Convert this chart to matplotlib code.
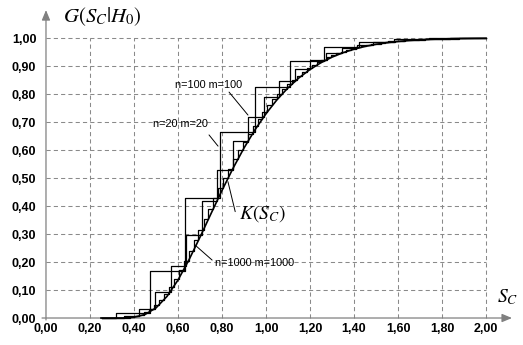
import matplotlib
matplotlib.use("Agg")
import matplotlib.pyplot as plt

plt.rcParams["mathtext.fontset"] = "stix"

# two-sample statistic S_C = sqrt(nm/(n+m)) * D, step positions and G values
s20 = [0.253, 0.316, 0.474, 0.632, 0.791, 0.949, 1.107, 1.265, 1.423, 1.581, 1.739, 1.897]
g20 = [0.0, 0.0169, 0.168, 0.4287, 0.6644, 0.8255, 0.9189, 0.9665, 0.9877, 0.996, 0.9989, 0.9997]

s100 = [0.253, 0.354, 0.424, 0.495, 0.566, 0.636, 0.707, 0.778, 0.849, 0.919, 0.990,
        1.061, 1.131, 1.202, 1.273, 1.344, 1.414, 1.485, 1.556, 1.626, 1.697, 1.768,
        1.838, 1.909, 1.980]
g100 = [0.0, 0.0058, 0.0316, 0.0916, 0.1846, 0.2979, 0.417, 0.5305, 0.6318, 0.7181, 0.7888,
        0.8452, 0.8888, 0.9218, 0.9461, 0.9636, 0.9759, 0.9844, 0.9901, 0.9939, 0.9963,
        0.9978, 0.9987, 0.9993, 0.9996]

s1000 = [0.253, 0.313, 0.335, 0.358, 0.380, 0.402, 0.425, 0.447, 0.470, 0.492, 0.514,
         0.537, 0.559, 0.581, 0.604, 0.626, 0.648, 0.671, 0.693, 0.716, 0.738, 0.760,
         0.783, 0.805, 0.827, 0.850, 0.872, 0.894, 0.917, 0.939, 0.962, 0.984, 1.006,
         1.029, 1.051, 1.073, 1.096, 1.118, 1.140, 1.163, 1.185, 1.207, 1.230, 1.252,
         1.275, 1.297, 1.319, 1.342, 1.364, 1.386, 1.409, 1.431, 1.453, 1.476, 1.498,
         1.521, 1.543, 1.565, 1.588, 1.610, 1.632, 1.655, 1.677, 1.699, 1.722, 1.744,
         1.767, 1.789, 1.811, 1.834, 1.856, 1.878, 1.901, 1.923, 1.945, 1.968, 1.990]
g1000 = [0.0, 0.0001, 0.0004, 0.0013, 0.0030, 0.0063, 0.0117, 0.0197, 0.0310, 0.0458, 0.0642,
         0.0863, 0.1118, 0.1405, 0.1718, 0.2053, 0.2406, 0.2772, 0.3145, 0.3522, 0.3898,
         0.4271, 0.4637, 0.4994, 0.534, 0.5674, 0.5994, 0.6299, 0.6589, 0.6863, 0.7122,
         0.7365, 0.7593, 0.7806, 0.8004, 0.8188, 0.8359, 0.8516, 0.8661, 0.8795, 0.8917,
         0.9029, 0.9131, 0.9224, 0.9308, 0.9385, 0.9454, 0.9516, 0.9572, 0.9622, 0.9667,
         0.9708, 0.9744, 0.9776, 0.9804, 0.9829, 0.9851, 0.9871, 0.9888, 0.9903, 0.9916,
         0.9928, 0.9938, 0.9947, 0.9955, 0.9961, 0.9967, 0.9972, 0.9976, 0.998, 0.9983,
         0.9986, 0.9988, 0.999, 0.9991, 0.9993, 0.9994]

# Kolmogorov limit distribution K(S)
sk = [0.25, 0.30, 0.35, 0.40, 0.45, 0.50, 0.55, 0.60, 0.65, 0.70, 0.75, 0.80,
      0.85, 0.90, 0.95, 1.00, 1.05, 1.10, 1.15, 1.20, 1.25, 1.30, 1.35, 1.40, 1.45,
      1.50, 1.55, 1.60, 1.65, 1.70, 1.75, 1.80, 1.85, 1.90, 1.95, 2.00]
gk = [0.0000, 0.0000, 0.0003, 0.0028, 0.0126, 0.0361, 0.0772, 0.1357, 0.2080,
      0.2888, 0.3728, 0.4559, 0.5347, 0.6073, 0.6725, 0.7300, 0.7798, 0.8223, 0.8580,
      0.8878, 0.9121, 0.9319, 0.9478, 0.9603, 0.9702, 0.9778, 0.9836, 0.9880, 0.9914,
      0.9938, 0.9956, 0.9969, 0.9979, 0.9985, 0.9990, 0.9993]

xticks = [0.0, 0.2, 0.4, 0.6, 0.8, 1.0, 1.2, 1.4, 1.6, 1.8, 2.0]
yticks = [0.0, 0.1, 0.2, 0.3, 0.4, 0.5, 0.6, 0.7, 0.8, 0.9, 1.0]

fig = plt.figure(figsize=(5.23, 3.45), dpi=100)
ax = fig.add_axes([0, 0, 1, 1])
ax.set_xlim(-0.209, 2.168)
ax.set_ylim(-0.0964, 1.136)

grid = dict(color="#8a8a8a", lw=0.75, linestyle=(0, (4, 3)), zorder=1)
ax.hlines(yticks[1:], 0, 2.0, **grid)
ax.vlines(xticks[1:], 0, 1.0, **grid)

for s, g in [(s20, g20), (s100, g100), (s1000, g1000)]:
    ax.step(s + [2.0], g + [g[-1]], where="post", color="black", lw=0.9, zorder=3)
ax.plot(sk, gk, color="black", lw=1.2, zorder=4)

# axes with arrows
arr = dict(arrowstyle="-|>,head_length=0.6,head_width=0.25", color="#808080",
           lw=0.9, mutation_scale=10, shrinkA=0, shrinkB=0)
ax.annotate("", xy=(2.118, 0), xytext=(-0.018, 0), arrowprops=arr, zorder=2)
ax.annotate("", xy=(0, 1.10), xytext=(0, -0.007), arrowprops=arr, zorder=2)

for sp in ax.spines.values():
    sp.set_color("none")
ax.spines["left"].set_position(("data", 0))
ax.spines["bottom"].set_position(("data", 0))
ax.set_xticks(xticks)
ax.set_yticks(yticks)
ax.set_xticklabels([f"{v:.2f}".replace(".", ",") for v in xticks])
ax.set_yticklabels([f"{v:.2f}".replace(".", ",") for v in yticks])
ax.tick_params(length=0, labelsize=9)
ax.tick_params(axis="x", pad=3.5)
ax.tick_params(axis="y", pad=7)
for lab in ax.get_xticklabels() + ax.get_yticklabels():
    lab.set_fontfamily("Liberation Sans")
    lab.set_fontweight("bold")

ax.text(0.077, 1.075, r"$G(S_C|H_0)$", fontsize=15, va="center", ha="left")
ax.text(2.05, 0.075, r"$S_C$", fontsize=14, va="center", ha="left")
ax.text(0.877, 0.375, r"$K(S_C)$", fontsize=14, va="center", ha="left")

lab = dict(fontsize=7.8, family="Liberation Sans", va="center", ha="left")
ax.text(0.586, 0.832, "n=100 m=100", **lab)
ax.text(0.486, 0.693, "n=20 m=20", **lab)
ax.text(0.766, 0.196, "n=1000 m=1000", **lab)

lead = dict(arrowstyle="-", color="black", lw=0.7, shrinkA=0, shrinkB=0)
ax.annotate("", xy=(0.918, 0.725), xytext=(0.832, 0.807), arrowprops=lead)
ax.annotate("", xy=(0.782, 0.614), xytext=(0.741, 0.654), arrowprops=lead)
ax.annotate("", xy=(0.677, 0.261), xytext=(0.755, 0.207), arrowprops=lead)
ax.annotate("", xy=(0.827, 0.487), xytext=(0.860, 0.380), arrowprops=lead)

fig.savefig("out.png", dpi=100)
